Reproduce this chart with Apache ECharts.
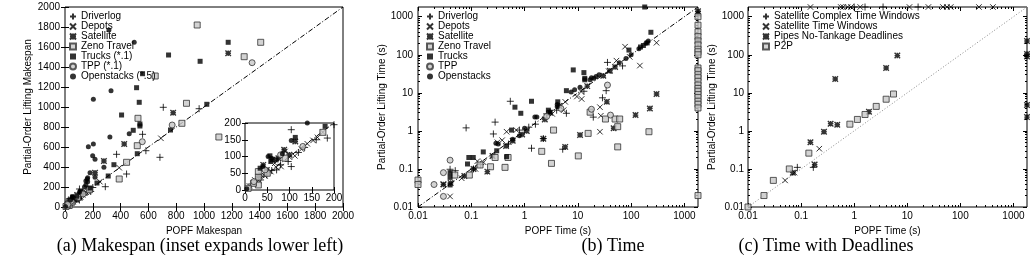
<!DOCTYPE html>
<html><head><meta charset="utf-8">
<script src="https://cdn.jsdelivr.net/npm/echarts@6/dist/echarts.min.js"></script>
<style>html,body{margin:0;padding:0;background:#fff}#c{width:1030px;height:262px}</style>
</head><body><div id="c"></div>
<script>
// ---------- Panel (a): Makespan ----------
const aDriverlog = [[707,997],[965,983],[558,727],[582,563],[371,527],[683,497],[443,330],[290,203],[104,180],[104,70],[185,155],[134,127],[71,60],[97,85],[49,45],[15,18],[120,112],[60,58],[35,30],[25,22],[80,75],[160,150],[200,195]];
const aDepots = [[690,687],[390,393],[251,253],[153,148],[163,157],[127,122],[90,115],[67,80],[81,70],[112,102],[37,45],[58,55],[22,30],[45,42],[100,98],[140,138],[175,172],[10,12],[30,28],[70,68]];
const aSatellite = [[1174,1537],[778,943],[426,630],[280,460],[216,343],[113,145],[88,120],[61,90],[41,75],[49,60],[75,95],[100,105],[30,40]];
const aZeno = [[951,1820],[1408,1647],[1289,1503],[649,1310],[874,1037],[841,837],[525,887],[520,613],[443,447],[390,280],[1107,700],[175,172],[30,55],[30,38],[30,15],[19,20],[7,5],[50,50],[90,95]];
const aTrucks = [[1174,1647],[745,1520],[972,1457],[558,1333],[515,1193],[534,1047],[1020,1027],[407,920],[539,830],[539,810],[491,767],[759,770],[520,533],[352,423],[311,310],[113,157],[56,102],[58,85],[34,65],[70,90],[230,240],[180,190]];
const aTPP = [[1346,1443],[771,820],[556,653],[80,105],[45,60],[20,25],[130,130]];
const aOpenstacks = [[316,1770],[498,1647],[331,1163],[204,1077],[323,700],[462,733],[168,603],[204,630],[199,513],[216,477],[280,397],[180,343],[163,293],[216,297],[163,253],[104,148],[84,108],[52,100],[4,4],[60,95],[40,70],[150,260],[150,220],[160,280],[140,200]];
const aRange = [0, 2000];
const insetRange = [0, 200];

// ---------- Panel (b): Time ----------
const bDriverlog = [[0.04,0.098],[0.08,1.2],[0.26,0.83],[0.28,1.7],[0.54,6.0],[0.8,1.05],[1.2,1.25],[1.35,0.35],[2.25,0.63],[2.6,2.8],[5.2,0.33],[6.1,2.9],[19.5,2.3],[29,7.4],[34,11.4],[36,63],[69,51],[13,11],[4,3.5],[0.15,0.13],[0.5,0.45],[0.11,0.1],[0.05,0.09],[1.6,1.5]];
const bDepots = [[0.04,0.019],[0.066,0.057],[0.12,0.1],[0.13,0.16],[0.38,0.57],[0.46,0.95],[0.7,1.05],[3.3,2.8],[5.8,5.8],[11.8,6.9],[11.5,10.8],[26,4.2],[27,2.5],[26,0.95],[38,37],[77,163],[146,52],[300,207],[0.03,0.04],[0.31,0.5],[5.4,3.5],[9.6,8],[53,70],[94,88],[0.17,0.15]];
const bSatellite = [[0.03,0.039],[0.041,0.043],[0.074,0.065],[0.2,0.085],[0.11,0.1],[2.25,0.62],[2.4,2.0],[5.8,0.38],[11,0.78],[35,5.8],[47,1.17],[121,2.6],[225,3.9],[300,9.3],[0.6,0.55],[0.9,0.8],[1.1,1.0],[0.45,0.4],[0.25,0.22],[3,3],[15,15],[40,38],[50,48],[30,28],[4.5,4.5],[1800,1400],[1800,1200],[1800,250],[1800,110],[1800,12]];
const bZeno = [[0.01,0.051],[0.01,0.039],[0.049,0.069],[0.092,0.069],[0.146,0.127],[0.23,0.114],[0.28,0.2],[0.43,0.11],[0.49,0.2],[2.1,0.29],[3.2,0.14],[3.5,1.05],[10.2,0.22],[15.6,0.86],[17,3.1],[33,2.05],[50,2.05],[61,2.05],[56,1.29],[56,0.38],[216,0.95],[1800,1000],[1800,600],[1800,400],[1800,300],[1800,230],[1800,180],[1800,140],[1800,120],[1800,100],[1800,45],[1800,38],[1800,30],[1800,25],[1800,20],[1800,16],[1800,13],[1800,11],[1800,9],[1800,7.5],[1800,6],[1800,5],[1800,4],[1800,0.02]];
const bTrucks = [[0.04,0.08],[0.04,0.06],[0.04,0.038],[0.085,0.135],[0.09,0.2],[0.109,0.2],[0.168,0.28],[0.46,0.21],[0.57,1.05],[0.66,4.2],[0.85,2.9],[1.35,6.0],[2.8,3.5],[4.2,5.8],[6.1,11.4],[8.2,40],[13,34],[13.5,24],[13.5,22],[91,133],[235,390],[180,1800],[150,160],[170,175],[200,205],[0.3,0.3]];
const bTPP = [[0.02,0.039],[0.03,0.019],[0.03,0.08],[0.04,0.17],[2.6,2.4],[4.8,3.9],[18,3.7],[41,2.6],[36,16]];
const bOpenstacks = [[0.29,0.47],[0.32,0.45],[1.0,1.17],[1.56,2.3],[1.7,2.3],[4.1,4.9],[4.1,4.3],[7.5,10.5],[8.7,12],[17,22],[18,25],[20,24],[22,27],[25,30],[140,145],[190,200],[210,230],[0.6,0.6],[0.8,0.75],[3,3.2],[11,14],[60,62],[80,80],[100,100]];
const logRange = [0.01, 1800];

// ---------- Panel (c): Time with Deadlines ----------
const cSatComplexTW = [[0.085,0.11],[0.17,0.11],[1.0,1800],[1.6,1800],[3.5,1800],[16,1800]];
const cSatTW = [[0.05,0.05],[0.075,0.08],[0.22,0.34],[0.15,1800],[0.56,1800],[0.62,1800],[0.75,1800],[0.87,1800],[1.3,1800],[11,1800],[25,1800],[47,1800],[56,1800],[66,1800],[224,1800],[411,1800]];
const cPipes = [[0.07,0.08],[0.18,0.13],[0.15,0.5],[0.27,0.95],[0.36,1.55],[0.48,1.45],[0.44,23],[4.0,45],[6.5,95],[1.9,3.2],[1800,230],[1800,105],[1800,90],[1800,4.8],[1800,2.3]];
const cP2P = [[0.01,0.01],[0.02,0.02],[0.03,0.05],[0.06,0.1],[0.14,0.26],[0.83,1.5],[1.15,2.0],[1.6,2.7],[2.6,4.4],[4.0,6.8],[5.5,9.3]];

// tick labels
const logTicks = [0.01, 0.1, 1, 10, 100, 1000];
const logMinor = [];
for (let d = -2; d <= 3; d++) for (let m = 2; m <= 9; m++) { const v = +(m * Math.pow(10, d)).toPrecision(3); if (v <= logRange[1]) logMinor.push(v); }

const FONT = '"Liberation Sans", Arial, sans-serif';
const SYM = {
  plus: 'path://M5,0L5,10M0,5L10,5',
  cross: 'path://M0,0L10,10M10,0L0,10',
  star: 'path://M5,0L5,10M0,5L10,5M0,0L10,10M10,0L0,10'
};
const STY = {
  plus: {symbol: SYM.plus, symbolSize: 7, itemStyle: {color: 'transparent', borderColor: '#000', borderWidth: 1}},
  cross: {symbol: SYM.cross, symbolSize: 5.5, itemStyle: {color: 'transparent', borderColor: '#000', borderWidth: 1}},
  star: {symbol: SYM.star, symbolSize: 5.5, itemStyle: {color: 'transparent', borderColor: '#000', borderWidth: 1.4}},
  box: {symbol: 'rect', symbolSize: 6, itemStyle: {color: '#c8c8c8', borderColor: '#333', borderWidth: 1}},
  fbox: {symbol: 'rect', symbolSize: 5, itemStyle: {color: '#000'}},
  circ: {symbol: 'circle', symbolSize: 6, itemStyle: {color: '#c8c8c8', borderColor: '#333', borderWidth: 1}},
  fcirc: {symbol: 'circle', symbolSize: 5, itemStyle: {color: '#000'}}
};
function sc(name, data, sty, xi, yi, extra) {
  return Object.assign({type: 'scatter', name, data, xAxisIndex: xi, yAxisIndex: yi, clip: false, silent: true,
    symbol: STY[sty].symbol, symbolSize: STY[sty].symbolSize, itemStyle: STY[sty].itemStyle}, extra || {});
}
function diag(range, xi, yi, style) {
  return {type: 'line', data: range.map(v => [v, v]), xAxisIndex: xi, yAxisIndex: yi, symbol: 'none', silent: true,
    lineStyle: style, z: 1};
}
const inInset = d => d.filter(p => p[0] <= insetRange[1] && p[1] <= insetRange[1]);
const logFmt = v => { const n = Number(v); return n >= 1 ? String(Math.round(n)) : String(+n.toPrecision(2)); };
const valFmt = v => String(v);

function ax(gi, pos, type, range, o) {
  const a = {type, gridIndex: gi, position: pos, min: range[0], max: range[1],
    axisLine: {show: false}, splitLine: {show: false},
    axisTick: {show: true, inside: true, length: o.len || 4, lineStyle: {color: '#000', width: 1}},
    axisLabel: {show: !!o.labels, margin: o.margin || 4, fontSize: 10, color: '#000', fontFamily: FONT, formatter: valFmt}};
  if (type === 'log') a.logBase = 10;
  if (o.interval) a.interval = o.interval;
  if (o.ticks) a.axisTick.customValues = o.ticks;
  if (o.labels && type === 'log') { a.axisLabel.customValues = logTicks; a.axisLabel.formatter = logFmt; }
  if (o.name) { a.name = o.name; a.nameLocation = 'middle'; a.nameGap = o.gap; a.nameTextStyle = {fontSize: 10, color: '#000', fontFamily: FONT}; }
  return a;
}

const xAxis = [
  ax(0, 'bottom', 'value', aRange, {interval: 200, labels: true, name: 'POPF Makespan', gap: 17}),
  ax(0, 'top', 'value', aRange, {interval: 200}),
  ax(1, 'bottom', 'value', insetRange, {interval: 50, labels: true, margin: 3, len: 3}),
  ax(1, 'top', 'value', insetRange, {interval: 50, len: 3}),
  ax(2, 'bottom', 'log', logRange, {labels: true, ticks: logTicks, name: 'POPF Time (s)', gap: 17}),
  ax(2, 'bottom', 'log', logRange, {ticks: logMinor, len: 2}),
  ax(2, 'top', 'log', logRange, {ticks: logTicks}),
  ax(2, 'top', 'log', logRange, {ticks: logMinor, len: 2}),
  ax(3, 'bottom', 'log', logRange, {labels: true, ticks: logTicks, name: 'POPF Time (s)', gap: 17}),
  ax(3, 'bottom', 'log', logRange, {ticks: logMinor, len: 2}),
  ax(3, 'top', 'log', logRange, {ticks: logTicks}),
  ax(3, 'top', 'log', logRange, {ticks: logMinor, len: 2})
];
const yAxis = [
  ax(0, 'left', 'value', aRange, {interval: 200, labels: true, margin: 5, name: 'Partial-Order Lifting Makespan', gap: 32}),
  ax(0, 'right', 'value', aRange, {interval: 200}),
  ax(1, 'left', 'value', insetRange, {interval: 50, labels: true, margin: 4, len: 3}),
  ax(1, 'right', 'value', insetRange, {interval: 50, len: 3}),
  ax(2, 'left', 'log', logRange, {labels: true, ticks: logTicks, margin: 5, name: 'Partial-Order Lifting Time (s)', gap: 30}),
  ax(2, 'left', 'log', logRange, {ticks: logMinor, len: 2}),
  ax(2, 'right', 'log', logRange, {ticks: logTicks}),
  ax(2, 'right', 'log', logRange, {ticks: logMinor, len: 2}),
  ax(3, 'left', 'log', logRange, {labels: true, ticks: logTicks, margin: 4, name: 'Partial-Order Lifting Time (s)', gap: 31}),
  ax(3, 'left', 'log', logRange, {ticks: logMinor, len: 2}),
  ax(3, 'right', 'log', logRange, {ticks: logTicks}),
  ax(3, 'right', 'log', logRange, {ticks: logMinor, len: 2})
];

const gridBase = {show: true, borderColor: '#000', borderWidth: 1, backgroundColor: '#fff', containLabel: false};
const grid = [
  Object.assign({left: 65, top: 7, width: 278, height: 200}, gridBase),
  Object.assign({left: 245, top: 123, width: 89, height: 67}, gridBase),
  Object.assign({left: 418, top: 7, width: 280, height: 200}, gridBase),
  Object.assign({left: 748, top: 7, width: 279, height: 200}, gridBase)
];

const series = [
  diag(aRange, 0, 0, {color: '#000', width: 1, type: [5, 2, 1, 2]}),
  sc('Driverlog', aDriverlog, 'plus', 0, 0),
  sc('Depots', aDepots, 'cross', 0, 0),
  sc('Satellite', aSatellite, 'star', 0, 0),
  sc('Zeno Travel', aZeno, 'box', 0, 0),
  sc('Trucks (*.1)', aTrucks, 'fbox', 0, 0),
  sc('TPP (*.1)', aTPP, 'circ', 0, 0),
  sc('Openstacks (*.5)', aOpenstacks, 'fcirc', 0, 0),
  diag(insetRange, 2, 2, {color: '#000', width: 1, type: [5, 2, 1, 2]}),
  sc('Driverlog', inInset(aDriverlog), 'plus', 2, 2),
  sc('Depots', inInset(aDepots), 'cross', 2, 2),
  sc('Satellite', inInset(aSatellite), 'star', 2, 2),
  sc('Zeno Travel', inInset(aZeno), 'box', 2, 2),
  sc('Trucks (*.1)', inInset(aTrucks), 'fbox', 2, 2),
  sc('TPP (*.1)', inInset(aTPP), 'circ', 2, 2),
  sc('Openstacks (*.5)', inInset(aOpenstacks), 'fcirc', 2, 2),
  diag(logRange, 4, 4, {color: '#000', width: 1, type: [5, 2, 1, 2]}),
  sc('Driverlog', bDriverlog, 'plus', 4, 4),
  sc('Depots', bDepots, 'cross', 4, 4),
  sc('Satellite', bSatellite, 'star', 4, 4),
  sc('Zeno Travel', bZeno, 'box', 4, 4),
  sc('Trucks', bTrucks, 'fbox', 4, 4),
  sc('TPP', bTPP, 'circ', 4, 4),
  sc('Openstacks', bOpenstacks, 'fcirc', 4, 4),
  diag(logRange, 8, 8, {color: '#888', width: 1, type: [1, 2]}),
  sc('Satellite Complex Time Windows', cSatComplexTW, 'plus', 8, 8),
  sc('Satellite Time Windows', cSatTW, 'cross', 8, 8),
  sc('Pipes No-Tankage Deadlines', cPipes, 'star', 8, 8),
  sc('P2P', cP2P, 'box', 8, 8)
];

const legBase = {orient: 'vertical', itemWidth: 6, itemHeight: 6, itemGap: 0, padding: 0, selectedMode: false,
  textStyle: {fontSize: 10, color: '#000', fontFamily: FONT, lineHeight: 9}};
const legend = [
  Object.assign({}, legBase, {left: 69, top: 11.5, data: ['Driverlog', 'Depots', 'Satellite', 'Zeno Travel', 'Trucks (*.1)', 'TPP (*.1)', 'Openstacks (*.5)']}),
  Object.assign({}, legBase, {left: 426, top: 11.5, textStyle: Object.assign({}, legBase.textStyle, {lineHeight: 8.7}), data: ['Driverlog', 'Depots', 'Satellite', 'Zeno Travel', 'Trucks', 'TPP', 'Openstacks']}),
  Object.assign({}, legBase, {left: 762, top: 11.5, textStyle: Object.assign({}, legBase.textStyle, {lineHeight: 8.7}), data: ['Satellite Complex Time Windows', 'Satellite Time Windows', 'Pipes No-Tankage Deadlines', 'P2P']})
];

const capStyle = {fontFamily: '"Liberation Serif", "Times New Roman", serif', fontSize: 18, fontWeight: 'normal', color: '#000'};
const title = [
  {text: '(a) Makespan (inset expands lower left)', left: 200, textAlign: 'center', top: 237, padding: 0, textStyle: capStyle},
  {text: '(b) Time', left: 613, textAlign: 'center', top: 237, padding: 0, textStyle: capStyle},
  {text: '(c) Time with Deadlines', left: 826, textAlign: 'center', top: 237, padding: 0, textStyle: capStyle}
];

const chart = echarts.init(document.getElementById('c'), null, {renderer: 'canvas'});
chart.setOption({animation: false, backgroundColor: '#fff', title, legend, grid, xAxis, yAxis, series});
</script></body></html>
